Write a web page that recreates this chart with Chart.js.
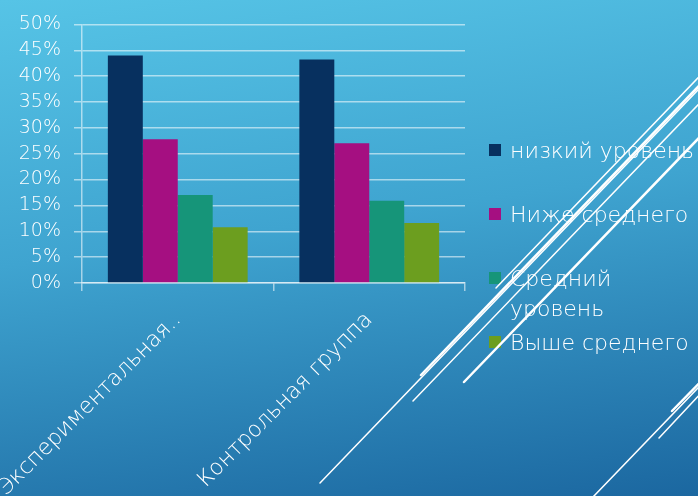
<!DOCTYPE html>
<html>
<head>
<meta charset="utf-8">
<script src="https://cdn.jsdelivr.net/npm/chart.js@4.4.1/dist/chart.umd.min.js"></script>
<style>
  html, body { margin: 0; padding: 0; }
  body { width: 698px; height: 496px; overflow: hidden; }
  .slide {
    position: relative; width: 698px; height: 496px;
    background: linear-gradient(172deg, #56c4e6 0%, #3fa4d0 45%, #1b67a0 100%);
  }
  .slide canvas, .slide svg { position: absolute; left: 0; top: 0; }
  .slide svg { pointer-events: none; }
</style>
</head>
<body>
<div class="slide">
  <canvas id="myChart" width="698" height="496"></canvas>
  <!-- decorative slide lines -->
  <svg width="698" height="496">
    <g stroke="#fff" fill="none" stroke-linecap="round">
      <line x1="320" y1="483" x2="720" y2="67" stroke-width="1.5"/>
      <line x1="421" y1="375" x2="720" y2="64" stroke-width="2.5"/>
      <line x1="413" y1="401" x2="720" y2="82" stroke-width="1.5"/>
      <line x1="464" y1="382" x2="720" y2="116" stroke-width="2.5"/>
      <line x1="496" y1="288" x2="720" y2="55" stroke-width="1.5"/>
      <line x1="593" y1="497" x2="720" y2="365" stroke-width="1.5"/>
      <line x1="672" y1="411" x2="720" y2="362" stroke-width="2.5"/>
      <line x1="659" y1="438" x2="720" y2="373" stroke-width="1.5"/>
    </g>
  </svg>
</div>
<script>
const categories = ['Экспериментальная..', 'Контрольная группа'];

const seriesNames = ['низкий уровень', 'Ниже среднего', 'Средний\nуровень', 'Выше среднего'];

const lowLevel = [44.0, 43.2];
const belowAverage = [27.8, 27.0];
const average = [17.0, 15.9];
const aboveAverage = [10.8, 11.6];

const yTickLabels = ['0%', '5%', '10%', '15%', '20%', '25%', '30%', '35%', '40%', '45%', '50%'];

const colors = ['#07305f', '#a50f81', '#169579', '#6c9e1f'];
const gridColor = 'rgba(255, 255, 255, 0.55)';
const fontFamily = '"DejaVu Sans", sans-serif';

// legend on the right, drawn by hand so that one item can wrap on two lines
const sideLegend = {
    id: 'sideLegend',
    afterDraw(chart) {
        const ctx = chart.ctx;
        const x = chart.chartArea.right + 24;
        const y0 = chart.height / 2 - 98;
        ctx.save();
        ctx.font = '200 22px ' + fontFamily;
        ctx.textBaseline = 'middle';
        chart.data.datasets.forEach((ds, i) => {
            const y = y0 + i * 64;
            ctx.fillStyle = ds.backgroundColor;
            ctx.fillRect(x, y - 6, 12, 12);
            ctx.fillStyle = '#fff';
            ds.label.split('\n').forEach((line, j) => {
                ctx.fillText(line, x + 21, y + 2 + j * 30);
            });
        });
        ctx.restore();
    }
};

const data = {
    labels: categories,
    datasets: [lowLevel, belowAverage, average, aboveAverage].map((values, i) => ({
        label: seriesNames[i],
        data: values,
        backgroundColor: colors[i],
        categoryPercentage: 0.73,
        barPercentage: 1,
    }))
};

const config = {
    type: 'bar',
    data: data,
    plugins: [sideLegend],
    options: {
        responsive: false,
        animation: false,
        layout: {
            padding: { top: 24, right: 233, left: 0, bottom: 0 }
        },
        plugins: {
            legend: { display: false },
            tooltip: { enabled: false },
        },
        scales: {
            x: {
                afterFit: (scale) => {
                    scale.height = 213;
                    // long rotated labels may run off the canvas, as on the slide
                    scale.paddingLeft = 0;
                    scale.paddingRight = 0;
                },
                grid: {
                    offset: true,
                    drawOnChartArea: false,
                    tickLength: 8,
                    color: gridColor,
                    lineWidth: 1.5,
                },
                border: { color: gridColor, width: 1.5 },
                ticks: {
                    color: '#fff',
                    font: { family: fontFamily, size: 22, weight: 200 },
                    minRotation: 45,
                    maxRotation: 45,
                    autoSkip: false,
                    padding: 16,
                },
            },
            y: {
                min: 0,
                max: 50,
                afterFit: (scale) => { scale.width = 82; },
                grid: {
                    color: gridColor,
                    lineWidth: 1.5,
                    tickLength: 8,
                },
                border: { color: gridColor, width: 1.5 },
                ticks: {
                    stepSize: 5,
                    color: '#fff',
                    font: { family: fontFamily, size: 19, weight: 200 },
                    padding: 13,
                    callback: (value, index) => yTickLabels[index],
                },
            }
        },
    }
};

new Chart(document.getElementById('myChart'), config);
</script>
</body>
</html>
